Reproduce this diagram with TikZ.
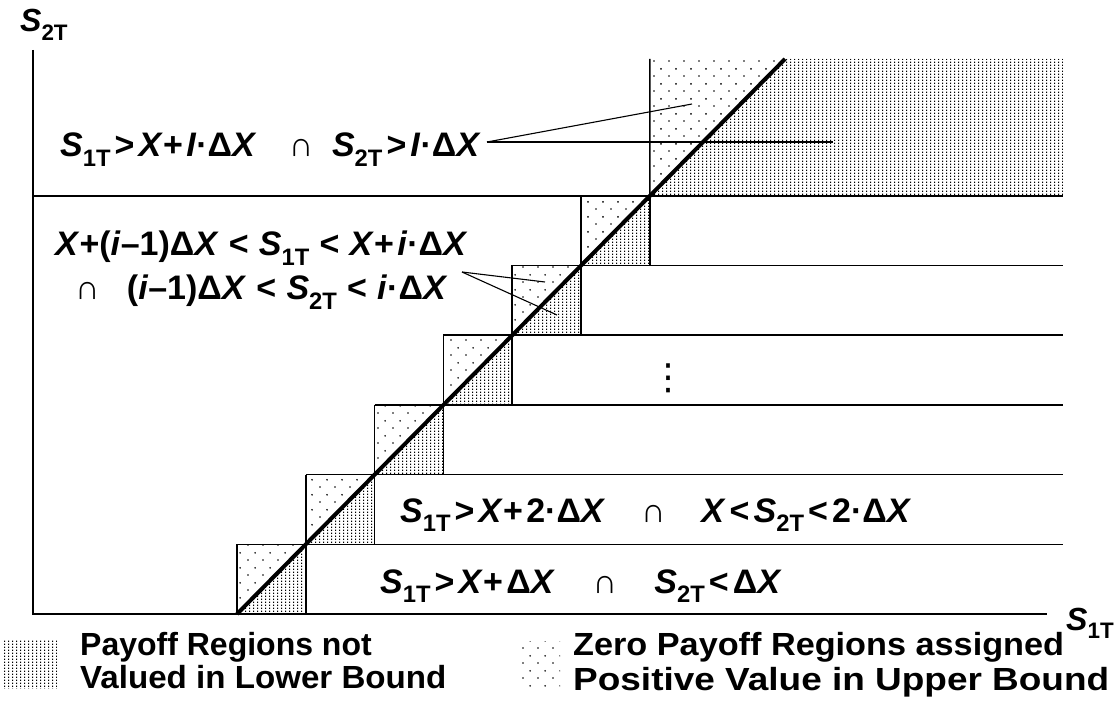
\documentclass[tikz,border=0pt]{standalone}
\usepackage{fontspec}
\setmainfont{Liberation Sans}
\newfontfamily\djv{DejaVu Sans}
\usetikzlibrary{patterns}
\pgfdeclarepatternformonly{vhatch}{\pgfpointorigin}{\pgfqpoint{4.4pt}{3pt}}{\pgfqpoint{4.4pt}{3pt}}{\pgfpathrectangle{\pgfqpoint{0pt}{0pt}}{\pgfqpoint{1.4pt}{1.9pt}}\pgfusepath{fill}}
\pgfdeclarepatternformonly{sdots}{\pgfpointorigin}{\pgfqpoint{14.5pt}{14.6pt}}{\pgfqpoint{14.5pt}{14.6pt}}{\pgfpathcircle{\pgfqpoint{1pt}{1pt}}{0.95pt}\pgfpathcircle{\pgfqpoint{8.25pt}{8.3pt}}{0.95pt}\pgfusepath{fill}}
\newcommand{\subx}[1]{\raisebox{-0.28em}{\scalebox{0.7}{#1}}}
\newcommand{\Svar}[1]{\textit{S}\subx{#1}}
\newcommand{\Xv}{\textit{X}}
\newcommand{\Iv}{\textit{I}}
\newcommand{\iv}{\textit{i}}
\newcommand{\op}[1]{\hspace{0.12em}#1\hspace{0.12em}}
\newcommand{\opw}[1]{\hspace{0.3em}#1\hspace{0.3em}}
\tikzset{
  lbl/.style={font=\fontsize{34}{38}\selectfont\bfseries, inner sep=0pt, anchor=base west},
  leg/.style={font=\fontsize{32}{36}\selectfont\bfseries, inner sep=0pt, anchor=base west},
  axis/.style={line width=2pt},
  grid/.style={line width=1.6pt},
  callout/.style={line width=1.1pt},
  diag/.style={line width=4pt},
  zero/.style={pattern=sdots},
  notval/.style={pattern=vhatch}
}
\begin{document}
\begin{tikzpicture}[x=1pt,y=-1pt]
\useasboundingbox (0,0) rectangle (1116,708);
% step coordinates
\foreach \k in {0,...,6}{
  \coordinate (p\k) at ({237+68.8*\k},{614-69.7*\k});
}
% staircase squares
\foreach \k [evaluate=\k as \n using int(\k+1)] in {0,...,5}{
  \fill[zero] (p\k) -- (p\k |- p\n) -- (p\n) -- cycle;
  \fill[notval] (p\k) -- (p\n |- p\k) -- (p\n) -- cycle;
}
% top region
\coordinate (tl) at (649.8,59);
\coordinate (td) at (785,59);
\coordinate (tr) at (1063,59);
\coordinate (br) at (1063,195.8);
\fill[zero] (p6) -- (tl) -- (td) -- cycle;
\fill[notval] (p6) -- (td) -- (tr) -- (br) -- cycle;
% axes
\coordinate (o) at (33,614);
\coordinate (ytop) at (33,50);
\coordinate (xend) at (1047,614);
\draw[axis] (ytop) -- (o) -- (xend);
% horizontal lines
\coordinate (hl6) at (33,195.8);
\draw[grid] (hl6) -- (br);
\foreach \k [evaluate=\k as \m using int(\k-1)] in {1,...,5}{
  \draw[grid] (p\m |- p\k) -- (1063,{614-69.7*\k});
}
% vertical edges of squares
\foreach \k [evaluate=\k as \n using int(\k+1)] in {0,...,5}{
  \draw[grid] (p\k) -- (p\k |- p\n);
  \draw[grid] (p\n |- p\k) -- (p\n);
}
\draw[grid] (p6) -- (tl);
% diagonal
\draw[diag] (p0) -- (td);
% labels
\node[lbl] (r1) at (60,157) {\Svar{1T}\op{>}\Xv+\hspace{0.1em}\Iv·Δ\Xv\hspace{0.95em}∩\hspace{0.55em}\Svar{2T}\op{>}\Iv·Δ\Xv};
\node[lbl] (r2) at (55,256) {\Xv+(\iv–1)Δ\Xv\opw{<}\Svar{1T}\opw{<}\Xv+\hspace{0.1em}\iv·Δ\Xv};
\node[lbl] (r3) at (75,300) {∩\hspace{0.8em}(\iv–1)Δ\Xv\opw{<}\Svar{2T}\opw{<}\iv·Δ\Xv};
\node[font=\fontsize{36}{40}\selectfont\djv, inner sep=0pt] (vd) at (668,378) {⋮};
\node[lbl] (r5) at (400,522) {\Svar{1T}\op{>}\Xv+\hspace{0.1em}2·Δ\Xv\hspace{1.05em}∩\hspace{1.05em}\Xv\op{<}\Svar{2T}\op{<}2·Δ\Xv};
\node[lbl] (r6) at (380,593) {\Svar{1T}\op{>}\Xv+\hspace{0.1em}Δ\Xv\hspace{1.1em}∩\hspace{1.1em}\Svar{2T}\op{<}Δ\Xv};
% callouts
\coordinate (c1) at (487,142);
\coordinate (c1a) at (692,104);
\coordinate (c1b) at (833,142);
\draw[callout] (c1) -- (c1a);
\draw[callout] (c1) -- (c1b);
\coordinate (c2) at (462,272);
\coordinate (c2a) at (545,282);
\coordinate (c2b) at (557,315);
\draw[callout] (c2) -- (c2a);
\draw[callout] (c2) -- (c2b);
% axis labels
\node[leg] (s2) at (20,32) {\Svar{2T}};
\node[leg] (s1) at (1066,630) {\Svar{1T}};
% legend
\fill[notval] (3,640) rectangle (57,688);
\fill[zero] (518,641) rectangle (560,690);
\node[leg] (l1a) at (80,655) {Payoff Regions not};
\node[leg] (l1b) at (80,688) {\scalebox{1.035}[1]{Valued in Lower Bound}};
\node[leg] (l2a) at (573,655) {\scalebox{1.07}[1]{Zero Payoff Regions assigned}};
\node[leg] (l2b) at (573,690) {\scalebox{1.155}[1]{Positive Value in Upper Bound}};
\end{tikzpicture}
\end{document}
